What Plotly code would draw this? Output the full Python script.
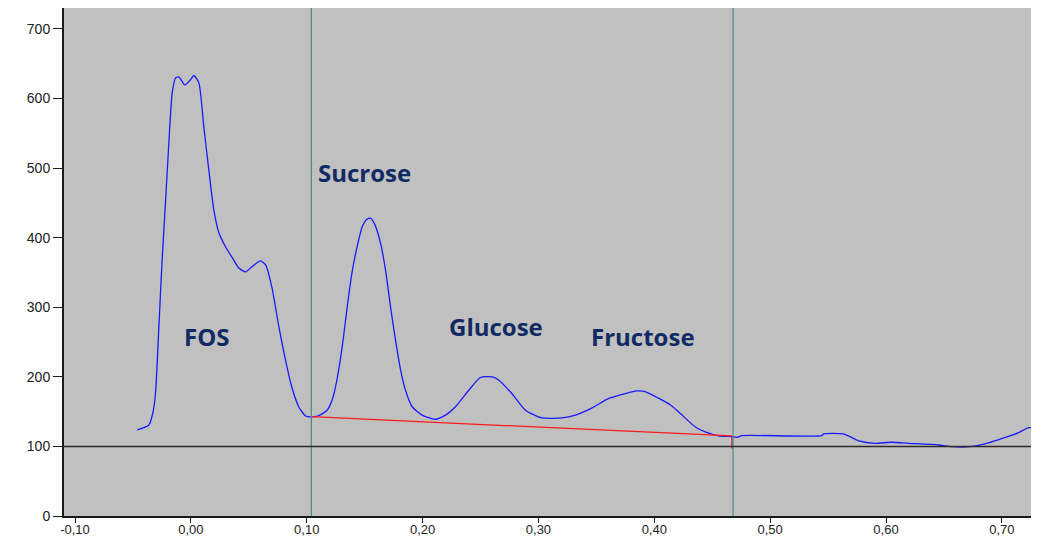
import plotly.graph_objects as go

# ---- data ----
time_min = [-0.0463, -0.0362, -0.0328, -0.0305, -0.0276, -0.0248, -0.0218, -0.019, -0.0161,
            -0.0132, -0.0104, -0.0052, -0.0003, 0.0026, 0.0069, 0.0112, 0.0155, 0.0198,
            0.0242, 0.0299, 0.0354, 0.0414, 0.0472, 0.0526, 0.0601, 0.0645, 0.0699, 0.076,
            0.0817, 0.0871, 0.0932, 0.099, 0.1033, 0.110, 0.1176, 0.122, 0.126, 0.1306,
            0.135, 0.139, 0.1435, 0.148, 0.152, 0.155, 0.159, 0.1637, 0.168, 0.1723, 0.1766,
            0.181, 0.1852, 0.191, 0.1996, 0.211, 0.2198, 0.2284, 0.240, 0.250, 0.260, 0.2657,
            0.277, 0.2888, 0.303, 0.320, 0.332, 0.346, 0.3607, 0.375, 0.385, 0.392, 0.404,
            0.414, 0.424, 0.4354, 0.447, 0.4556, 0.467, 0.4714, 0.4757, 0.5447, 0.546, 0.5634,
            0.5764, 0.5907, 0.605, 0.6195, 0.6454, 0.657, 0.6727, 0.6885, 0.703, 0.7144,
            0.723, 0.7256]
signal = [123.6, 130.8, 148, 176.8, 271.7, 368, 454, 536, 608,
          629.6, 631, 619.5, 627, 633, 622.4, 559, 497, 440,
          407, 387, 372, 356.5, 350.7, 358, 366.5, 360.8, 329, 271.7,
          224, 185.4, 156.7, 143.7, 142.5, 144, 152, 167, 195, 243,
          301, 349, 387, 416, 426.5, 428, 418, 392, 353.6, 301, 253,
          210, 181, 157, 145, 139, 145, 157, 181, 199, 200, 195.5,
          176, 152, 141, 141, 145, 155, 169, 176, 179.7, 178.7, 169,
          159.5, 145, 128, 119, 115, 114, 113, 115.5, 115.5, 118, 118,
          108, 104.5, 106, 104.5, 102, 99.6, 99.6, 105, 113, 119.7,
          127, 127]

baseline_time = [0.1040, 0.4670]
baseline_signal = [142.7, 115.0]
drop_time = [0.4670, 0.4670]
drop_signal = [115.0, 97.0]

window_limits = [0.1040, 0.4680]
reference_level = 100

peak_names = ["FOS", "Sucrose", "Glucose", "Fructose"]
peak_label_x = [0.0138, 0.150, 0.263, 0.390]
peak_label_y = [258, 494, 272, 258]

x_tick_vals = [-0.10, 0.00, 0.10, 0.20, 0.30, 0.40, 0.50, 0.60, 0.70]
x_tick_text = ["-0,10", "0,00", "0,10", "0,20", "0,30", "0,40", "0,50", "0,60", "0,70"]
y_tick_vals = [0, 100, 200, 300, 400, 500, 600, 700]

# ---- figure ----
fig = go.Figure()

fig.add_trace(go.Scatter(x=time_min, y=signal, mode="lines",
                         line=dict(color="#1a1aff", width=1.3, shape="spline", smoothing=0.6),
                         hoverinfo="skip", showlegend=False))
fig.add_trace(go.Scatter(x=baseline_time, y=baseline_signal, mode="lines",
                         line=dict(color="#ff1a1a", width=1.3), showlegend=False))
fig.add_trace(go.Scatter(x=drop_time, y=drop_signal, mode="lines",
                         line=dict(color="#d01010", width=1.3), showlegend=False))

for xv in window_limits:
    fig.add_shape(type="line", xref="x", yref="paper", x0=xv, x1=xv, y0=0, y1=1,
                  line=dict(color="#4f8f8c", width=1.3), layer="above")
fig.add_shape(type="line", xref="paper", yref="y", x0=0, x1=1, y0=reference_level,
              y1=reference_level, line=dict(color="#2b2b2b", width=1.5), layer="above")

for name, lx, ly in zip(peak_names, peak_label_x, peak_label_y):
    fig.add_annotation(x=lx, y=ly, text=name, showarrow=False,
                       font=dict(family="Open Sans, sans-serif", size=24,
                                 color="#122a63", weight="bold"))

# the page body adds an 8px offset, so the figure is sized/margined to compensate
fig.update_layout(
    width=1031, height=529,
    margin=dict(l=56, r=7, t=0, b=21),
    paper_bgcolor="white", plot_bgcolor="#c0c0c0",
    showlegend=False,
    xaxis=dict(range=[-0.1095, 0.726], tickvals=x_tick_vals, ticktext=x_tick_text,
               automargin=False, ticklabelstandoff=-5,
               showgrid=False, zeroline=False, showline=True, linecolor="#1a1a1a",
               linewidth=2, ticks="outside", ticklen=5, tickcolor="#1a1a1a",
               tickfont=dict(family="Liberation Sans, Arial", size=13, color="#222")),
    yaxis=dict(range=[0, 730], tickvals=y_tick_vals, showgrid=False, zeroline=False,
               automargin=False,
               showline=True, linecolor="#1a1a1a", linewidth=2, ticks="outside",
               ticklen=9, tickcolor="#1a1a1a",
               tickfont=dict(family="Liberation Sans, Arial", size=14, color="#222")),
)

fig.write_html("out.html")
